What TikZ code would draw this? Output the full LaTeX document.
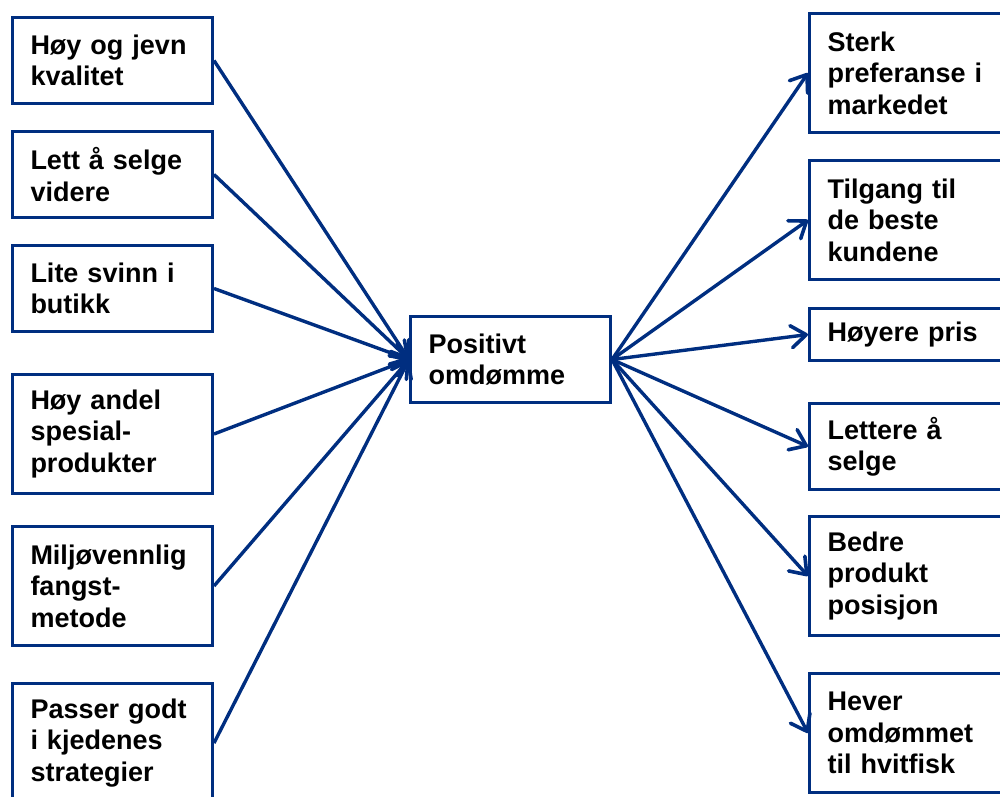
\documentclass[tikz,border=0pt]{standalone}
\usepackage{fontspec}
\setmainfont{Liberation Sans}
\usetikzlibrary{arrows.meta}
\definecolor{navy}{RGB}{0,46,128}
\begin{document}
\begin{tikzpicture}[x=1pt,y=-1pt,
  box/.style={draw=navy,line width=3pt,anchor=north west,align=left,
    inner xsep=18pt,inner ysep=0pt,text width=164pt,minimum width=200pt,
    font=\fontsize{27}{31.5}\selectfont\bfseries,text=black},
  conn/.style={draw=navy,line width=3.4pt,-{Straight Barb[round,length=15pt,width=22pt,line width=3.6pt]}}]
\useasboundingbox (0,0) rectangle (1000,796);
% left column
\node[box,minimum height=86pt] (l1) at (11,16) {Høy og jevn\\kvalitet};
\node[box,minimum height=86pt] (l2) at (11,130) {Lett å selge\\videre};
\node[box,minimum height=86pt] (l3) at (11,244) {Lite svinn i\\butikk};
\node[box,minimum height=119pt] (l4) at (11,373) {Høy andel\\spesial-\\produkter};
\node[box,minimum height=119pt] (l5) at (11,525) {Miljøvennlig\\fangst-\\metode};
\node[box,minimum height=119pt] (l6) at (11,682) {Passer godt\\i kjedenes\\strategier};
% centre
\node[box,minimum height=86pt] (c) at (409,315) {Positivt\\omdømme};
% right column
\node[box,minimum height=119pt] (r1) at (808,12) {Sterk\\preferanse i\\markedet};
\node[box,minimum height=119pt] (r2) at (808,159) {Tilgang til\\de beste\\kundene};
\node[box,minimum height=52pt] (r3) at (808,307) {Høyere pris};
\node[box,minimum height=86pt] (r4) at (808,402) {Lettere å\\selge};
\node[box,minimum height=119pt] (r5) at (808,515) {Bedre\\produkt\\posisjon};
\node[box,minimum height=119pt] (r6) at (808,672) {Hever\\omdømmet\\til hvitfisk};
% connectors
\foreach \n in {l1,l2,l3,l4,l5,l6}{\draw[conn] (\n.east) -- (c.west);}
\foreach \n in {r1,r2,r3,r4,r5,r6}{\draw[conn] (c.east) -- (\n.west);}
\end{tikzpicture}
\end{document}
